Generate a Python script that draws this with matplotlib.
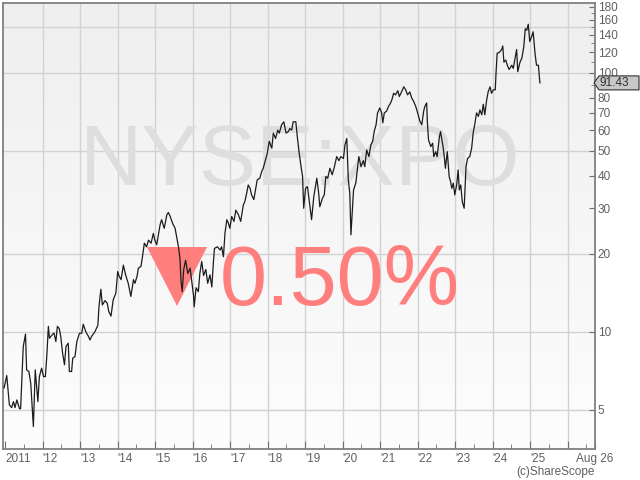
import matplotlib
matplotlib.use("Agg")
import matplotlib.pyplot as plt
import numpy as np
from matplotlib.colors import LinearSegmentedColormap
from matplotlib.patches import Polygon
from matplotlib.ticker import FixedLocator, NullFormatter
from matplotlib.transforms import IdentityTransform

plt.rcParams["font.family"] = ["Liberation Sans", "DejaVu Sans"]

# decimal year / share price
dates = [
    2010.97, 2011.04, 2011.11, 2011.17, 2011.22, 2011.26, 2011.31, 2011.38, 2011.41, 2011.48,
    2011.54, 2011.57, 2011.63, 2011.68, 2011.75, 2011.80, 2011.87, 2011.91, 2011.97, 2012.02,
    2012.07, 2012.11, 2012.15, 2012.18, 2012.24, 2012.30, 2012.35, 2012.39, 2012.44, 2012.48,
    2012.53, 2012.58, 2012.62, 2012.68, 2012.71, 2012.77, 2012.80, 2012.86, 2012.91, 2012.98,
    2013.04, 2013.08, 2013.15, 2013.22, 2013.26, 2013.31, 2013.39, 2013.47, 2013.50, 2013.55,
    2013.59, 2013.66, 2013.72, 2013.76, 2013.82, 2013.88, 2013.95, 2014.00, 2014.03, 2014.09,
    2014.15, 2014.21, 2014.28, 2014.35, 2014.42, 2014.46, 2014.52, 2014.55, 2014.62, 2014.66,
    2014.71, 2014.77, 2014.82, 2014.89, 2014.95, 2014.99, 2015.04, 2015.13, 2015.17, 2015.24,
    2015.31, 2015.35, 2015.40, 2015.46, 2015.53, 2015.57, 2015.62, 2015.66, 2015.69, 2015.72,
    2015.76, 2015.81, 2015.87, 2015.93, 2015.97, 2016.02, 2016.04, 2016.09, 2016.15, 2016.19,
    2016.24, 2016.29, 2016.35, 2016.40, 2016.46, 2016.51, 2016.55, 2016.58, 2016.66, 2016.73,
    2016.77, 2016.82, 2016.86, 2016.91, 2016.95, 2016.99, 2017.04, 2017.10, 2017.15, 2017.22,
    2017.28, 2017.35, 2017.39, 2017.44, 2017.48, 2017.53, 2017.57, 2017.63, 2017.68, 2017.72,
    2017.79, 2017.84, 2017.88, 2017.93, 2017.99, 2018.04, 2018.11, 2018.15, 2018.21, 2018.27,
    2018.31, 2018.37, 2018.43, 2018.49, 2018.55, 2018.59, 2018.64, 2018.68, 2018.75, 2018.79,
    2018.84, 2018.89, 2018.93, 2018.96, 2019.01, 2019.06, 2019.10, 2019.17, 2019.23, 2019.31,
    2019.36, 2019.39, 2019.46, 2019.51, 2019.55, 2019.60, 2019.66, 2019.72, 2019.78, 2019.84,
    2019.90, 2019.95, 2020.02, 2020.06, 2020.11, 2020.15, 2020.19, 2020.22, 2020.26, 2020.29,
    2020.35, 2020.40, 2020.43, 2020.49, 2020.55, 2020.59, 2020.64, 2020.70, 2020.75, 2020.80,
    2020.84, 2020.89, 2020.93, 2020.99, 2021.04, 2021.07, 2021.11, 2021.17, 2021.22, 2021.26,
    2021.31, 2021.36, 2021.41, 2021.47, 2021.51, 2021.57, 2021.63, 2021.68, 2021.73, 2021.79,
    2021.84, 2021.89, 2021.95, 2022.00, 2022.06, 2022.11, 2022.16, 2022.19, 2022.24, 2022.26,
    2022.29, 2022.35, 2022.40, 2022.43, 2022.48, 2022.52, 2022.58, 2022.61, 2022.67, 2022.70,
    2022.74, 2022.79, 2022.84, 2022.88, 2022.91, 2022.95, 2022.99, 2023.04, 2023.08, 2023.11,
    2023.15, 2023.19, 2023.24, 2023.29, 2023.33, 2023.39, 2023.44, 2023.48, 2023.53, 2023.57,
    2023.62, 2023.66, 2023.71, 2023.75, 2023.79, 2023.84, 2023.88, 2023.93, 2023.97, 2024.02,
    2024.07, 2024.09, 2024.12, 2024.18, 2024.24, 2024.27, 2024.30, 2024.35, 2024.39, 2024.44,
    2024.51, 2024.55, 2024.59, 2024.64, 2024.67, 2024.73, 2024.78, 2024.83, 2024.87, 2024.91,
    2024.95, 2024.99, 2025.04, 2025.08, 2025.13, 2025.17, 2025.22, 2025.26,
]
prices = [
    6.08, 6.78, 5.23, 5.10, 5.38, 5.10, 5.46, 5.05, 5.05, 8.78,
    9.80, 7.13, 7.03, 6.33, 4.31, 7.13, 5.38, 6.72, 7.24, 6.72,
    6.72, 8.15, 10.5, 9.45, 9.70, 9.90, 9.17, 10.5, 10.3, 9.60,
    8.27, 7.46, 8.78, 9.04, 7.03, 7.03, 7.92, 8.03, 9.17, 9.88,
    9.88, 10.7, 10.0, 9.60, 9.30, 9.65, 10.0, 10.6, 12.5, 14.6,
    12.7, 13.2, 12.9, 12.0, 11.5, 13.3, 14.1, 17.1, 16.5, 15.9,
    18.1, 16.6, 15.4, 13.7, 15.9, 15.4, 16.5, 17.6, 17.9, 19.5,
    22.0, 21.3, 22.6, 22.0, 24.0, 22.6, 21.7, 25.9, 27.1, 25.1,
    28.3, 28.9, 27.9, 26.3, 25.1, 23.3, 21.3, 19.2, 15.6, 14.3,
    17.4, 18.9, 16.8, 17.6, 15.9, 13.9, 12.5, 14.8, 14.3, 16.8,
    18.7, 16.5, 17.4, 15.4, 16.6, 14.9, 18.4, 21.0, 21.3, 20.7,
    21.3, 19.5, 24.0, 27.1, 26.3, 25.1, 27.9, 26.7, 29.5, 28.3,
    26.7, 30.9, 31.8, 34.3, 36.9, 35.8, 33.8, 32.4, 35.8, 38.6,
    39.2, 41.6, 42.8, 45.4, 48.9, 54.4, 51.2, 58.5, 55.8, 60.1,
    58.5, 63.0, 64.7, 58.5, 59.3, 60.9, 60.1, 64.7, 64.7, 56.6,
    48.9, 43.4, 39.8, 30.0, 35.8, 36.4, 32.8, 27.1, 33.3, 39.2,
    34.3, 30.4, 32.8, 33.8, 39.8, 39.2, 42.8, 40.4, 43.4, 47.5,
    45.8, 47.5, 46.7, 52.6, 55.8, 38.6, 34.3, 23.7, 29.5, 35.3,
    37.5, 43.4, 47.5, 43.4, 45.8, 43.4, 50.4, 47.5, 52.6, 54.4,
    59.3, 63.0, 70.0, 73.2, 70.0, 64.1, 70.0, 71.1, 74.1, 75.6,
    78.5, 83.4, 82.2, 85.3, 81.0, 84.4, 88.3, 86.0, 82.2, 84.4,
    80.0, 77.7, 74.1, 70.0, 65.0, 63.0, 71.1, 74.1, 76.5, 64.1,
    55.1, 51.9, 53.5, 47.5, 49.6, 47.5, 56.6, 59.3, 52.6, 48.9,
    42.8, 49.6, 39.8, 37.9, 35.8, 37.5, 33.8, 36.9, 42.2, 35.3,
    36.9, 31.8, 30.0, 43.4, 46.7, 47.5, 51.2, 58.5, 64.1, 70.0,
    67.9, 71.9, 68.9, 75.6, 68.9, 78.5, 84.4, 88.3, 83.4, 86.0,
    86.0, 99.7, 119, 120, 123, 127, 110, 112, 107, 103,
    107, 104, 112, 123, 101, 110, 114, 126, 148, 146,
    154, 132, 138, 144, 119, 107, 107, 91.43,
]

year_ticks = list(range(2011, 2027))
year_labels = ["2011"] + ["'%02d" % (y % 100) for y in range(2012, 2026)] + [""]
end_date = 2026.73
end_label = "Aug 26"
y_labels = [5, 10, 20, 30, 40, 50, 60, 70, 80, 100, 120, 140, 160, 180]
y_minor = [90, 110, 130, 150, 170]
grid_levels = [5, 10, 20, 50, 100, 150]

fig = plt.figure(figsize=(6.4, 4.8), dpi=100)
ax = fig.add_axes([3 / 640, 31 / 480, 592 / 640, 446 / 480])
ax.set_yscale("log")

# light grey gradient background
bg = LinearSegmentedColormap.from_list("bg", ["#efefef", "#fdfdfd"])
ax.imshow(np.linspace(0, 1, 256).reshape(-1, 1), extent=[0, 1, 0, 1],
          transform=ax.transAxes, cmap=bg, aspect="auto", zorder=0)

for lvl in grid_levels:
    ax.axhline(lvl, color="#d2d2d2", lw=1, zorder=0.5)
for yr in year_ticks[1:]:
    ax.axvline(yr, color="#d2d2d2", lw=1, zorder=0.5)

# watermark + change badge
ax.text(300 / 640, 1 - 163 / 480, "NYSE:XPO", transform=fig.transFigure,
        ha="center", va="center", fontsize=62, color="#dedede", zorder=1)
tri = Polygon([[147 / 640, 1 - 247 / 480], [207 / 640, 1 - 247 / 480],
               [177 / 640, 1 - 306 / 480]], closed=True, transform=fig.transFigure,
              facecolor="#ff7f7f", edgecolor="none", zorder=1)
ax.add_patch(tri)
ax.text(220 / 640, 1 - 305 / 480, "0.50%", transform=fig.transFigure,
        ha="left", va="baseline", fontsize=61, color="#ff7f7f", zorder=1)

ax.plot(dates, prices, color="#1c1c1c", lw=0.9, zorder=3)

ax.set_xlim(2010.94, end_date)
ax.set_ylim(3.53, 186)

ax.set_xticks(year_ticks + [end_date])
ax.set_xticklabels(year_labels + [end_label])
ax.xaxis.set_minor_locator(FixedLocator([y + 0.5 for y in year_ticks]))
for lbl in ax.get_xticklabels():
    lbl.set_ha("left")
ax.get_xticklabels()[0].set_x(2010.88)
ax.get_xticklabels()[-1].set_ha("center")

ax.yaxis.tick_right()
ax.yaxis.set_major_locator(FixedLocator(y_labels))
ax.set_yticklabels([str(v) for v in y_labels])
ax.yaxis.set_minor_locator(FixedLocator(y_minor))
ax.yaxis.set_minor_formatter(NullFormatter())

ax.tick_params(axis="x", which="major", direction="in", length=6, pad=3,
               color="#707070", labelcolor="#606060", labelsize=8.5)
ax.tick_params(axis="x", which="minor", direction="in", length=3.5, color="#707070")
ax.tick_params(axis="y", which="major", direction="in", length=4, pad=2,
               color="#707070", labelcolor="#606060", labelsize=8.5)
ax.tick_params(axis="y", which="minor", direction="in", length=3, color="#707070")

for s in ax.spines.values():
    s.set_color("#808080")
    s.set_linewidth(1.3)

# last price marker on the right axis
last = prices[-1]
px, py = ax.transData.transform((end_date, last))
box = Polygon([[px - 1, py], [px + 4, py + 7], [639, py + 7], [639, py - 7], [px + 4, py - 7]],
              closed=True, transform=IdentityTransform(), facecolor="#c8c8c8",
              edgecolor="#303030", lw=0.8)
fig.add_artist(box)
fig.text((px + 5) / 640, py / 480, "%.2f" % last, ha="left", va="center",
         fontsize=8.5, color="#303030")

fig.text(595 / 640, 1 - 472 / 480, "(c)ShareScope", ha="right", va="center",
         fontsize=8.5, color="#606060")

fig.savefig("out.png", dpi=100)
